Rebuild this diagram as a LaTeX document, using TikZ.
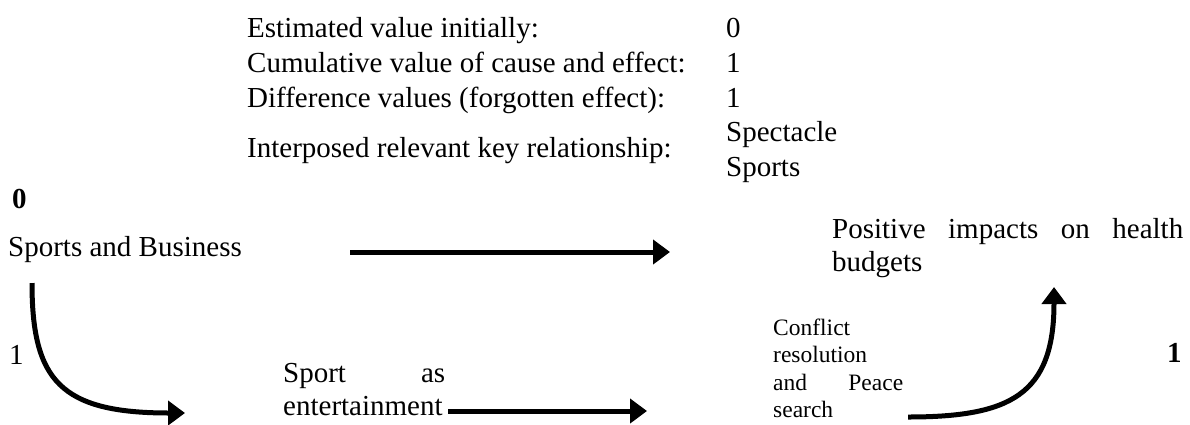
\documentclass[tikz,border=0pt]{standalone}
\usepackage{fontspec}
\setmainfont{Liberation Serif}
\usetikzlibrary{arrows.meta}
\begin{document}
\begin{tikzpicture}[x=1pt,y=-1pt,
  txt/.style={inner sep=0pt, anchor=base west, font=\fontsize{29}{35}\selectfont},
  body/.style={inner sep=0pt, anchor=base west, text width=#1, align=left,
    font=\fontsize{29}{33}\selectfont},
  small/.style={inner sep=0pt, anchor=base west, text width=#1, align=left,
    font=\fontsize{23.5}{27.5}\selectfont},
  flow/.style={line width=5pt, -{Triangle[length=17pt,width=24pt]}}]
\useasboundingbox (0,0) rectangle (1190,424);

% summary table at the top
\node[txt] (l1) at (247,37)  {Estimated value initially:};
\node[txt] (l2) at (247,72)  {Cumulative value of cause and effect:};
\node[txt] (l3) at (247,107) {Difference values (forgotten effect):};
\node[txt] (l4) at (247,157) {Interposed relevant key relationship:};
\node[txt] (v1) at (726,37)  {0};
\node[txt] (v2) at (726,72)  {1};
\node[txt] (v3) at (726,107) {1};
\node[txt, text width=200pt, align=left] (v4) at (726,141) {Spectacle\\Sports};

% scores
\node[txt, font=\fontsize{29}{35}\selectfont\bfseries] (s0) at (12,208) {0};
\node[txt] (s1) at (9,364) {1};
\node[txt, font=\fontsize{29}{35}\selectfont\bfseries] (s2) at (1167,362) {1};

% chain elements (justified lines are spread to the column width)
\node[txt] (sb) at (8,256) {Sports and Business};
\node[body=351pt] (pos) at (832,238)
  {\makebox[351pt][l]{Positive\hfill impacts\hfill on\hfill health}\\budgets};
\node[body=162pt] (ent) at (283,382)
  {\makebox[162pt][l]{Sport\hfill as}\\entertainment};
\node[small=130pt] (cr) at (773,335)
  {Conflict\\resolution\\\makebox[130pt][l]{and\hfill Peace}\\search};

% arrow end points
\coordinate (a1s) at (350,252);
\coordinate (a1e) at (670,252);
\coordinate (a2s) at (32,283);
\coordinate (a2e) at (185,413);
\coordinate (a3s) at (448,411);
\coordinate (a3e) at (647,411);
\coordinate (a4s) at (908,417);
\coordinate (a4e) at (1054,287);

\draw[flow] (a1s) -- (a1e);
\draw[flow] (a2s) .. controls (32,380) and (60,413) .. (a2e);
\draw[flow] (a3s) -- (a3e);
\draw[flow] (a4s) .. controls (1010,417) and (1054,395) .. (a4e);
\end{tikzpicture}
\end{document}
